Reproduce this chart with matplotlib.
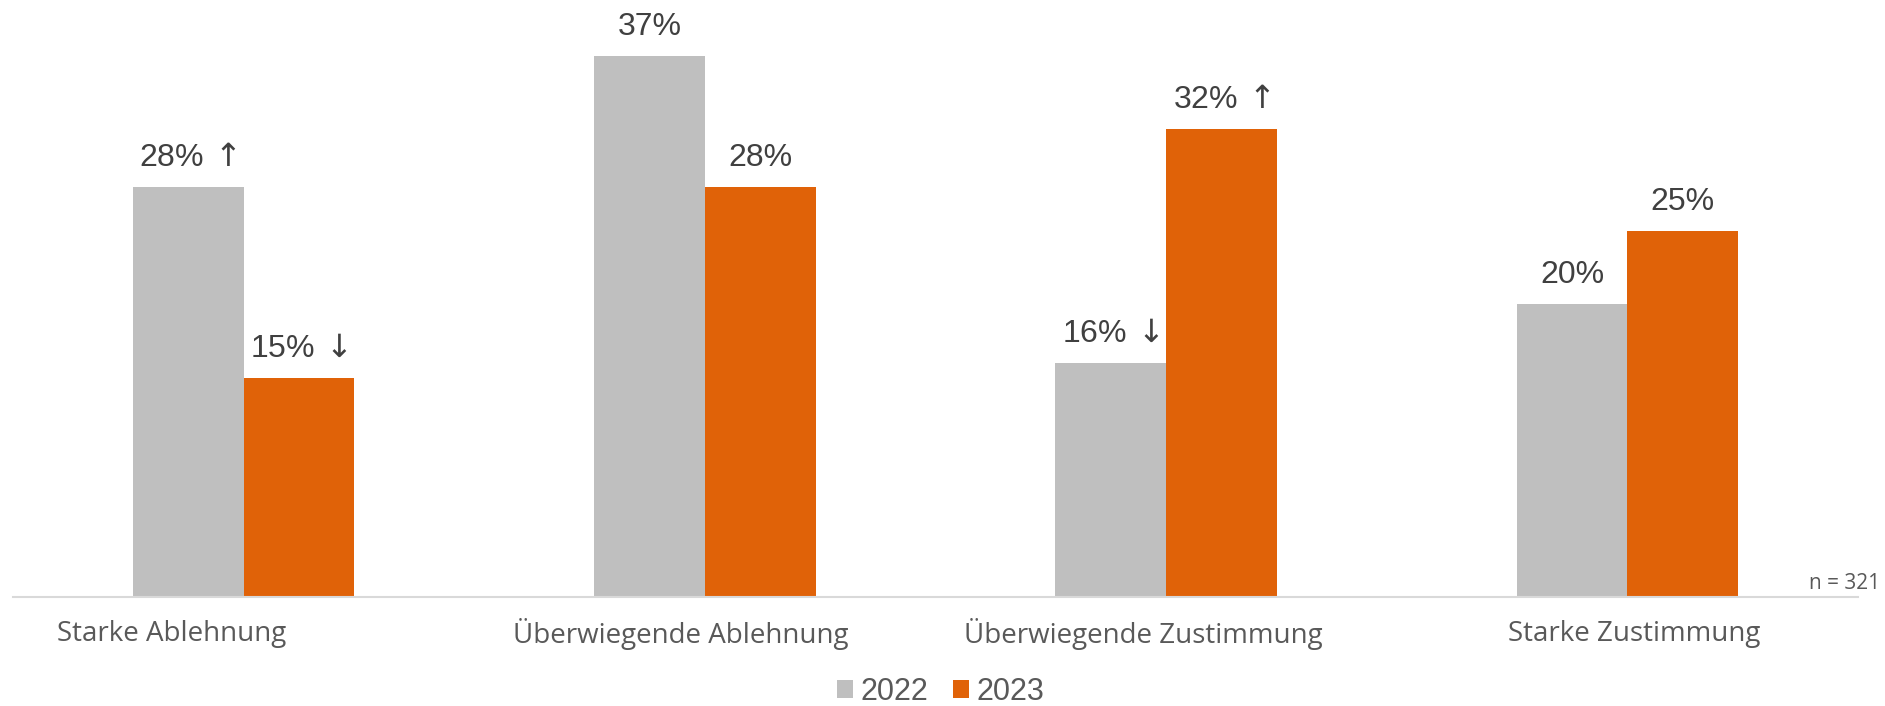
import numpy as np
import matplotlib.pyplot as plt

categories = ["Starke Ablehnung", "Überwiegende Ablehnung",
              "Überwiegende Zustimmung", "Starke Zustimmung"]
years = ["2022", "2023"]
values_2022 = [28, 37, 16, 20]
values_2023 = [15, 28, 32, 25]
# significance markers shown next to the percentages
marks_2022 = ["up", "", "down", ""]
marks_2023 = ["down", "", "up", ""]
sample_note = "n = 321"

# label offsets (category units) for the x captions
label_shift = [-0.156, -0.052, -0.050, 0.015]

c_2022 = "#bfbfbf"
c_2023 = "#e06208"
txt_dark = "#404040"
txt_mid = "#595959"
num_font = ["Liberation Sans", "DejaVu Sans"]
cat_font = ["Open Sans", "DejaVu Sans"]
arrows = {"up": r"$\,\uparrow$", "down": r"$\,\downarrow$"}

W, H = 1885, 706
fig = plt.figure(figsize=(W / 100, H / 100), dpi=100)
ax = fig.add_axes([13 / W, (H - 597) / H, (1858 - 13) / W, 597 / H])

x = np.arange(len(categories))
bw = 0.24
b1 = ax.bar(x - bw / 2, values_2022, bw, color=c_2022, label=years[0])
b2 = ax.bar(x + bw / 2, values_2023, bw, color=c_2023, label=years[1])

ax.set_xlim(-0.5, len(categories) - 0.5)
ax.set_ylim(0, 40.8)

for bars, vals, marks in [(b1, values_2022, marks_2022), (b2, values_2023, marks_2023)]:
    for rect, v, m in zip(bars, vals, marks):
        s = f"{v}%" + (arrows[m] if m else "")
        ax.annotate(s, (rect.get_x() + rect.get_width() / 2, v),
                    xytext=(0, 10), textcoords="offset points",
                    ha="center", va="bottom", fontsize=23,
                    color=txt_dark, family=num_font)

for i, cat in enumerate(categories):
    ax.text(i + label_shift[i], -2.5, cat, ha="center", va="center",
            fontsize=20, color=txt_mid, family=cat_font)

fig.text(1880 / W, (H - 589) / H, sample_note, ha="right", va="baseline",
         fontsize=15, color=txt_mid, family=cat_font)

for side in ["top", "right", "left"]:
    ax.spines[side].set_visible(False)
ax.spines["bottom"].set_color("#d9d9d9")
ax.spines["bottom"].set_linewidth(1.5)
ax.set_xticks([])
ax.set_yticks([])

leg = fig.legend(handles=[b1, b2], labels=years, loc="center",
                 bbox_to_anchor=(941 / W, (H - 692) / H), ncol=2, frameon=False,
                 prop={"family": num_font, "size": 22},
                 handlelength=0.52, handleheight=0.52, handletextpad=0.25,
                 columnspacing=0.8, borderpad=0, borderaxespad=0)
for t in leg.get_texts():
    t.set_color(txt_mid)

fig.savefig("out.png", dpi=100)
